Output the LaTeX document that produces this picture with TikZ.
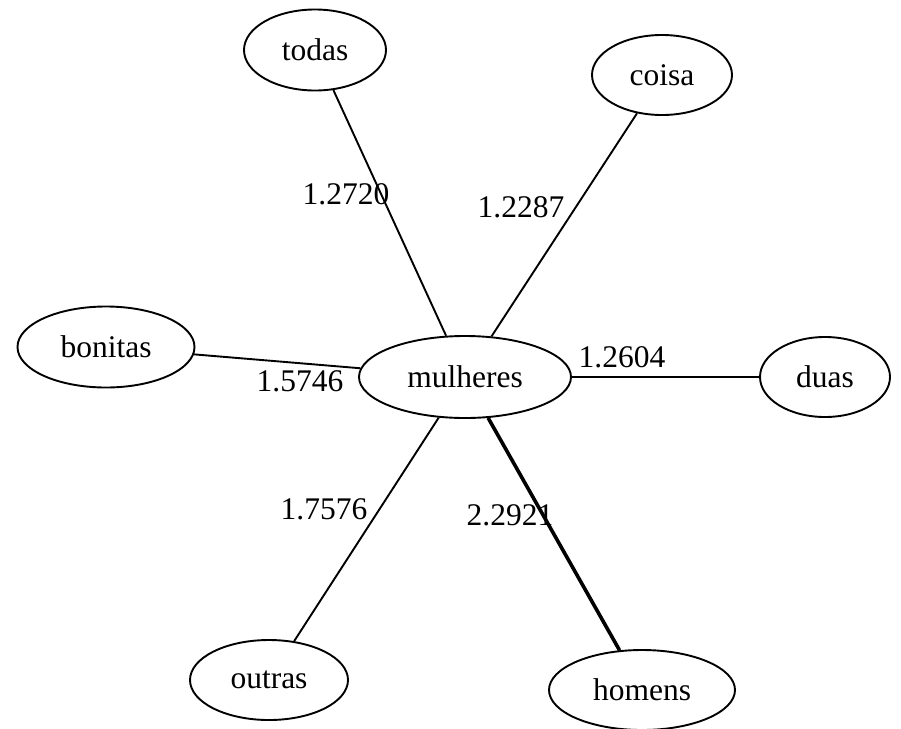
\documentclass[tikz,border=0pt]{standalone}
\usepackage{fontspec}
\setmainfont{Liberation Serif}
\usetikzlibrary{shapes.geometric}
\begin{document}
\begin{tikzpicture}[x=1pt,y=-1pt,
  word/.style={draw, ellipse, line width=1.9pt, inner sep=0pt,
    font=\fontsize{31.5}{36}\selectfont},
  weight/.style={inner sep=0pt, font=\fontsize{31.5}{36}\selectfont},
  link/.style={line width=1.9pt},
  strong/.style={line width=3.6pt}]
\useasboundingbox (0,0) rectangle (901,728);
% words
\node[word, minimum width=212pt, minimum height=82pt] (mulheres) at (465,377) {mulheres};
\node[word, minimum width=142pt, minimum height=81pt] (todas)    at (315,50)  {todas};
\node[word, minimum width=140pt, minimum height=80pt] (coisa)    at (662,75)  {coisa};
\node[word, minimum width=177pt, minimum height=81pt] (bonitas)  at (106,347) {bonitas};
\node[word, minimum width=130pt, minimum height=80pt] (duas)     at (825,377) {duas};
\node[word, minimum width=158pt, minimum height=80pt] (outras)   at (269,680) {outras};
\node[word, minimum width=186pt, minimum height=80pt] (homens)   at (642,690) {homens};
% links
\draw[link]   (todas)   -- (mulheres);
\draw[link]   (coisa)   -- (mulheres);
\draw[link]   (bonitas) -- (mulheres);
\draw[link]   (mulheres) -- (duas);
\draw[link]   (mulheres) -- (outras);
\draw[strong] (mulheres) -- (homens);
% weights
\node[weight] (wtodas)   at (346,194) {1.2720};
\node[weight] (wcoisa)   at (521,207) {1.2287};
\node[weight] (wbonitas) at (300,381) {1.5746};
\node[weight] (wduas)    at (622,357) {1.2604};
\node[weight] (woutras)  at (324,509) {1.7576};
\node[weight] (whomens)  at (510,515) {2.2921};
\end{tikzpicture}
\end{document}
